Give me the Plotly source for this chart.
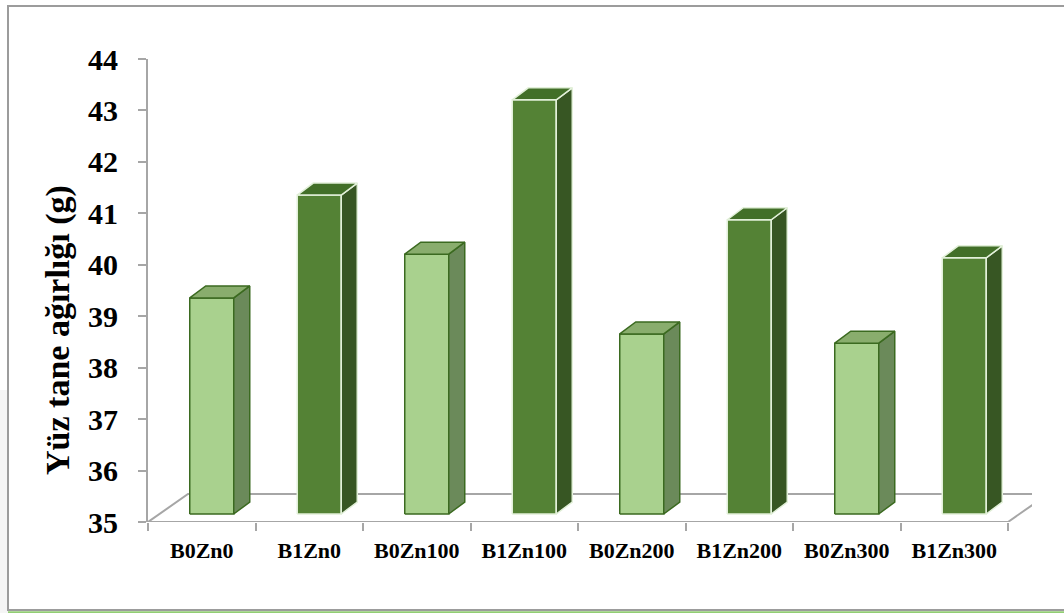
import plotly.graph_objects as go

categories = ["B0Zn0", "B1Zn0", "B0Zn100", "B1Zn100", "B0Zn200", "B1Zn200", "B0Zn300", "B1Zn300"]
values = [39.2, 41.2, 40.05, 43.05, 38.5, 40.72, 38.32, 39.98]
groups = ["B0", "B1", "B0", "B1", "B0", "B1", "B0", "B1"]
y_ticks = list(range(35, 45))

W, H = 1064, 613
L, R, T, B = 148, 32, 59, 91
pw, ph = W - L - R, H - T - B
YMIN, YMAX = 35, 44
ppu_y = ph / (YMAX - YMIN)
cat_px = 107.5
ppu_x = cat_px
XMIN = -0.5
XMAX = XMIN + pw / cat_px

def dx(p):
    return p / ppu_x

def dy(p):
    return p / ppu_y

# 3D projection constants (pixels)
FLOOR_DX, FLOOR_DY = 40, 28
BAR_OFF_DX, BAR_OFF_DY = 10, 8
BAR_DEP_DX, BAR_DEP_DY = 16, 12
BAR_W = 44

style = {
    "B0": dict(front="#a9d18e", side="#6b8a5a", top="#89ad6d", line="#3b6a20"),
    "B1": dict(front="#548235", side="#375623", top="#426f28", line="#e2f0d9"),
}

fig = go.Figure()

n = len(categories)
fx = [XMIN, XMIN + n, XMIN + n + dx(FLOOR_DX), XMIN + dx(FLOOR_DX), XMIN]
fy = [YMIN, YMIN, YMIN + dy(FLOOR_DY), YMIN + dy(FLOOR_DY), YMIN]
fig.add_trace(go.Scatter(x=fx, y=fy, mode="lines", line=dict(color="#a6a6a6", width=2),
                         hoverinfo="skip", showlegend=False, cliponaxis=False))

for g in ["B0", "B1"]:
    fxs, fys, sxs, sys_, txs, tys = [], [], [], [], [], []
    for i, (c, v, gg) in enumerate(zip(categories, values, groups)):
        if gg != g:
            continue
        x0 = i + dx(BAR_OFF_DX - BAR_W / 2)
        x1 = i + dx(BAR_OFF_DX + BAR_W / 2)
        y0 = YMIN + dy(BAR_OFF_DY)
        y1 = v + dy(BAR_OFF_DY)
        ddx, ddy = dx(BAR_DEP_DX), dy(BAR_DEP_DY)
        fxs += [x0, x1, x1, x0, x0, None]
        fys += [y0, y0, y1, y1, y0, None]
        sxs += [x1, x1 + ddx, x1 + ddx, x1, x1, None]
        sys_ += [y0, y0 + ddy, y1 + ddy, y1, y0, None]
        txs += [x0, x1, x1 + ddx, x0 + ddx, x0, None]
        tys += [y1, y1, y1 + ddy, y1 + ddy, y1, None]
    s = style[g]
    for xs, ys, col in [(fxs, fys, s["front"]), (sxs, sys_, s["side"]), (txs, tys, s["top"])]:
        fig.add_trace(go.Scatter(x=xs, y=ys, mode="lines", fill="toself", fillcolor=col,
                                 line=dict(color=s["line"], width=1.5),
                                 hoverinfo="skip", showlegend=False, cliponaxis=False))

def px_x(p):
    return (p - L) / pw

def px_y(p):
    return (H - B - p) / ph

shapes = [
    dict(type="rect", xref="paper", yref="paper", x0=px_x(-4), x1=px_x(8), y0=px_y(613), y1=px_y(390),
         fillcolor="#f5f5f5", line=dict(width=0), layer="below"),
    dict(type="rect", xref="paper", yref="paper", x0=px_x(8), x1=px_x(1080), y0=px_y(610), y1=px_y(6),
         fillcolor="white", line=dict(color="#9c9c9c", width=2), layer="below"),
    dict(type="line", xref="paper", yref="paper", x0=px_x(8), x1=px_x(1080), y0=px_y(612.5), y1=px_y(612.5),
         line=dict(color="#92cd74", width=2.5)),
]

fig.update_layout(
    width=W, height=H,
    margin=dict(l=L, r=R, t=T, b=B, pad=0),
    paper_bgcolor="white", plot_bgcolor="rgba(0,0,0,0)",
    shapes=shapes,
    font=dict(family="Liberation Serif, Times New Roman, serif", color="black"),
    xaxis=dict(range=[XMIN, XMAX], showgrid=False, zeroline=False, showline=False,
               tickmode="array", tickvals=list(range(n)), ticktext=[f"<b>{c}</b>" for c in categories],
               ticks="", tickfont=dict(size=22), ticklabelstandoff=13,
               minor=dict(tickmode="array", tickvals=[k - 0.5 for k in range(n + 1)], ticks="outside",
                          ticklen=8, tickwidth=1.5, tickcolor="#a6a6a6", showgrid=False)),
    yaxis=dict(range=[YMIN, YMAX], showgrid=False, zeroline=False, showline=True,
               linecolor="#a6a6a6", linewidth=2, ticks="outside", ticklen=8, tickwidth=1.5,
               tickcolor="#a6a6a6", tickmode="array", tickvals=y_ticks,
               ticktext=[f"<b>{t}</b>" for t in y_ticks], tickfont=dict(size=30), ticklabelstandoff=14),
    annotations=[dict(text="<b>Yüz tane ağırlığı (g)</b>", textangle=-90, xref="paper", yref="paper",
                      x=px_x(58), y=px_y(330), xanchor="center", yanchor="middle", showarrow=False,
                      font=dict(size=34))],
)

fig.write_html("out.html")
